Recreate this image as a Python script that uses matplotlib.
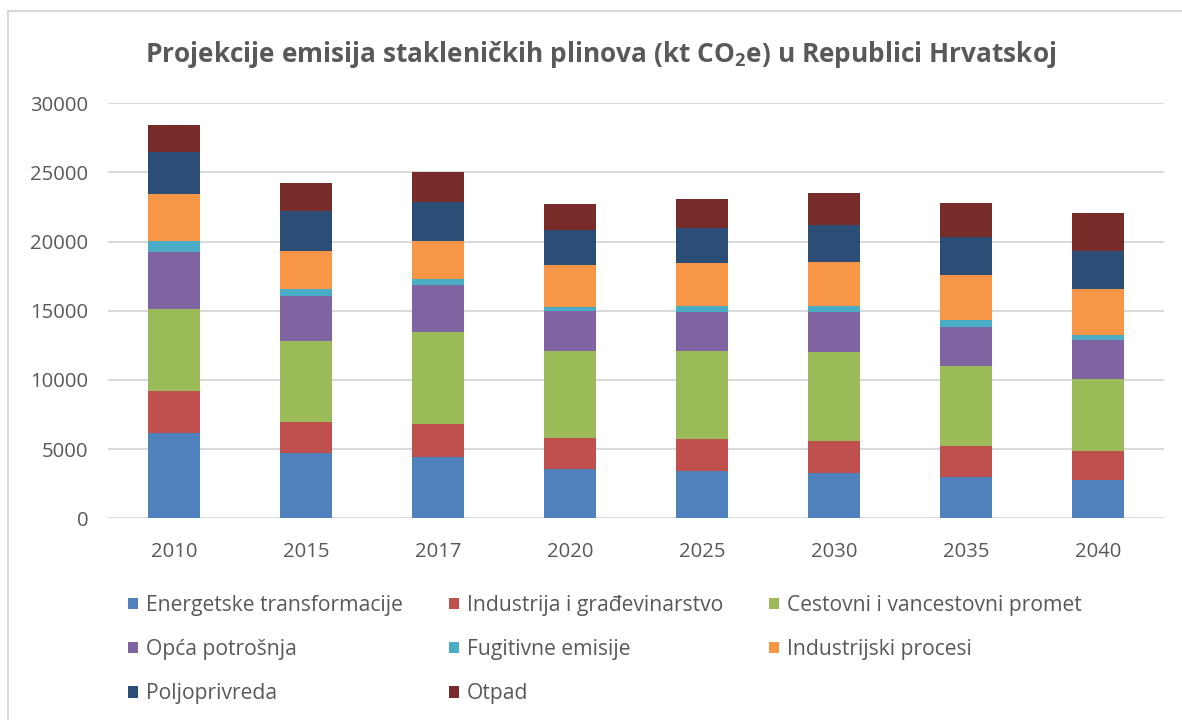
import matplotlib
matplotlib.use("Agg")
import matplotlib.pyplot as plt
from matplotlib.lines import Line2D
from matplotlib.patches import Patch
import numpy as np

years = ["2010", "2015", "2017", "2020", "2025", "2030", "2035", "2040"]

energetske = [6170, 4700, 4410, 3570, 3400, 3300, 3010, 2750]
industrija = [3060, 2240, 2430, 2240, 2310, 2310, 2240, 2150]
cestovni = [5930, 5900, 6650, 6290, 6390, 6390, 5740, 5160]
opca = [4070, 3250, 3350, 2890, 2800, 2890, 2870, 2800]
fugitivne = [840, 460, 460, 290, 460, 460, 480, 390]
ind_procesi = [3350, 2770, 2770, 3040, 3060, 3160, 3230, 3330]
poljoprivreda = [3040, 2870, 2770, 2510, 2600, 2670, 2770, 2770]
otpad = [1980, 2050, 2170, 1860, 2050, 2310, 2430, 2720]

series_names = ["Energetske transformacije", "Industrija i građevinarstvo",
                "Cestovni i vancestovni promet", "Opća potrošnja",
                "Fugitivne emisije", "Industrijski procesi",
                "Poljoprivreda", "Otpad"]
series_values = [energetske, industrija, cestovni, opca, fugitivne,
                 ind_procesi, poljoprivreda, otpad]
colors = ["#4F81BD", "#C0504D", "#9BBB59", "#8064A2", "#4BACC6",
          "#F79646", "#2C4D75", "#772C2A"]

title = "Projekcije emisija stakleničkih plinova (kt CO$_2$e) u Republici Hrvatskoj"

W, H = 1182, 720
plt.rcParams['font.family'] = ['Open Sans', 'DejaVu Sans']
plt.rcParams['mathtext.default'] = 'regular'
fig = plt.figure(figsize=(W / 100, H / 100), dpi=100)
fig.patch.set_facecolor("white")

ax = fig.add_axes([108 / W, 1 - 518.3 / H, (1164 - 108) / W, (518.3 - 103.3) / H])
x = np.arange(len(years))
bottom = np.zeros(len(years))
handles = []
for name, vals, c in zip(series_names, series_values, colors):
    ax.bar(x, vals, width=0.40, bottom=bottom, color=c, linewidth=0, zorder=3)
    bottom += np.array(vals)
    handles.append(Patch(facecolor=c, edgecolor='none', label=name))

ax.set_xlim(-0.5, len(years) - 0.5)
ax.set_ylim(0, 30000)
ax.set_yticks(np.arange(0, 30001, 5000))
ax.set_xticks(x)
ax.set_xticklabels(years)
ax.yaxis.grid(True, color="#D9D9D9", linewidth=1.4, zorder=0)
ax.set_axisbelow(True)
for s in ax.spines.values():
    s.set_visible(False)
ax.tick_params(axis='both', length=0, labelsize=14.6, colors="#595959")
ax.tick_params(axis='y', pad=14)
ax.tick_params(axis='x', pad=17)

renderer = fig.canvas.get_renderer()

def fit_size(text, target_px, weight='normal'):
    t = fig.text(0, 0, text, fontsize=20, weight=weight)
    w = t.get_window_extent(renderer).width
    t.remove()
    return 20 * target_px / w

tsize = fit_size(title, 912, weight='bold')
fig.text(601 / W, 1 - 55 / H, title, fontsize=tsize, weight='bold',
         color="#595959", ha='center', va='center')

lsize = fit_size("Energetske transformacije", 257)
order = [0, 3, 6, 1, 4, 7, 2, 5]
fpx = lsize / 0.72
leg = fig.legend([handles[i] for i in order], [series_names[i] for i in order],
                 ncol=3, loc='upper left',
                 bbox_to_anchor=(128 / W, 1 - 595 / H),
                 frameon=False, fontsize=lsize, borderpad=0, borderaxespad=0,
                 handlelength=10 / fpx, handleheight=10 / fpx,
                 handletextpad=8 / fpx, columnspacing=46 / fpx,
                 labelspacing=(48.5 - 1.2 * fpx) / fpx)
for t in leg.get_texts():
    t.set_color("#595959")

# chart frame (partially visible)
fig.add_artist(Line2D([8 / W, 8 / W], [0, 1 - 11 / H], transform=fig.transFigure,
                      color="#D9D9D9", linewidth=1.5))
fig.add_artist(Line2D([8 / W, 1], [1 - 11 / H, 1 - 11 / H], transform=fig.transFigure,
                      color="#D9D9D9", linewidth=1.5))

fig.savefig("out.png", dpi=100, facecolor="white")
